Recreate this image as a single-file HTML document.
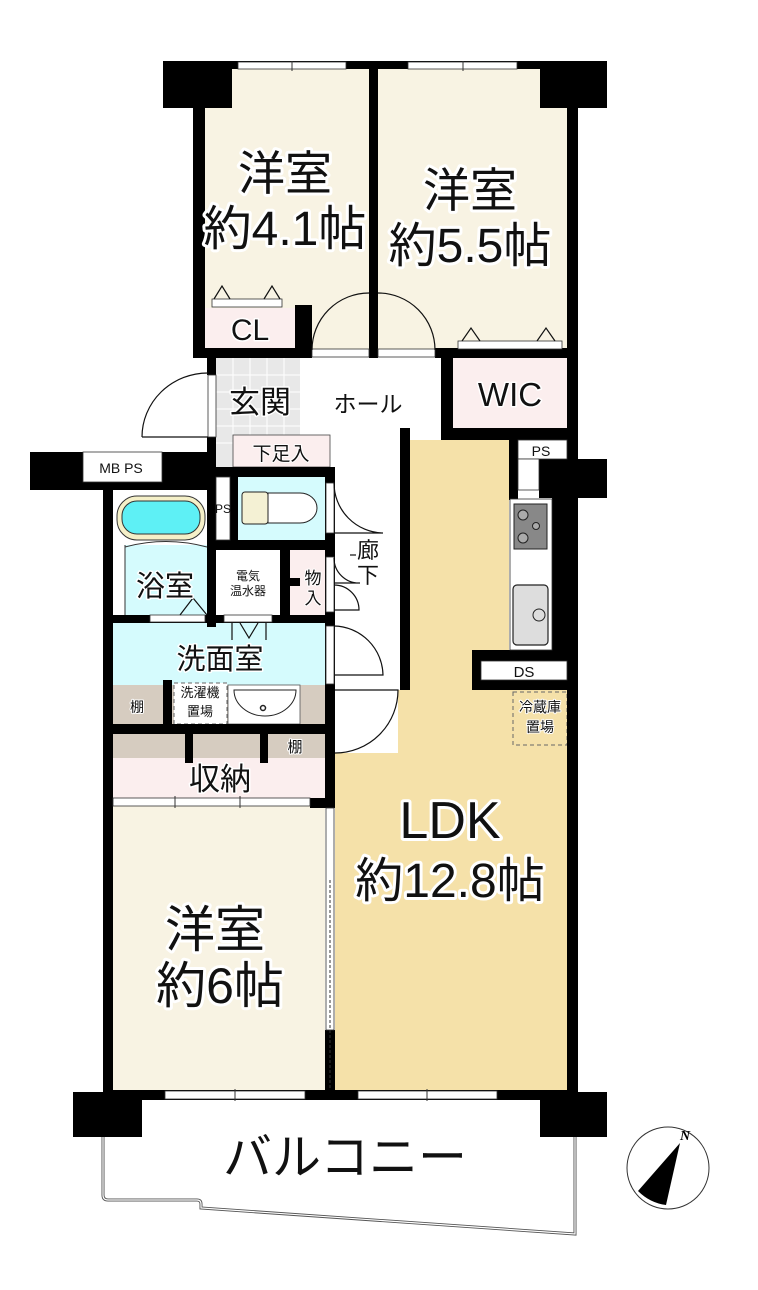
<!DOCTYPE html>
<html><head><meta charset="utf-8"><style>
html,body{margin:0;padding:0;background:#fff}
svg{display:block}
.t{font-family:"Liberation Sans","Noto Sans CJK JP",sans-serif;fill:#111;text-anchor:middle;paint-order:stroke;stroke:#fff;stroke-linejoin:round}
</style></head><body>
<svg width="758" height="1290" viewBox="0 0 758 1290" xmlns="http://www.w3.org/2000/svg">
<rect x="205" y="68" width="164" height="282" fill="#f8f3e3"/>
<rect x="378" y="68" width="190" height="282" fill="#f8f3e3"/>
<rect x="205" y="308" width="90" height="40" fill="#fbeeee"/>
<rect x="453" y="358" width="115" height="70" fill="#fbeeee"/>
<rect x="216" y="358" width="84" height="109" fill="#e8e8e8"/>
<g stroke="#fff" stroke-width="1">
<line x1="233" y1="358" x2="233" y2="467"/><line x1="250" y1="358" x2="250" y2="467"/><line x1="267" y1="358" x2="267" y2="467"/><line x1="284" y1="358" x2="284" y2="467"/>
<line x1="216" y1="375" x2="300" y2="375"/><line x1="216" y1="392" x2="300" y2="392"/><line x1="216" y1="409" x2="300" y2="409"/><line x1="216" y1="426" x2="300" y2="426"/><line x1="216" y1="443" x2="300" y2="443"/>
</g>
<rect x="233" y="435" width="97" height="32" fill="#fbeeee" stroke="#444" stroke-width="0.8"/>
<path d="M410 440 H509 V650 H472 V690 H568 V1092 H335 V753 H398 V690 H410 Z" fill="#f5e1a9"/>
<rect x="112" y="490" width="95" height="55" fill="#fff"/>
<rect x="125" y="545" width="82" height="72" fill="#d5fbfd"/>
<rect x="238" y="477" width="87" height="63" fill="#d5fbfd"/>
<rect x="290" y="550" width="35" height="65" fill="#fbeeee"/>
<rect x="113" y="622" width="212" height="63" fill="#d5fbfd"/>
<rect x="113" y="685" width="212" height="39" fill="#d6ccc0"/>
<rect x="174" y="683" width="53" height="41" fill="#fff" stroke="#666" stroke-width="1" stroke-dasharray="4,3"/>
<rect x="228" y="685" width="72" height="39" fill="#fff" stroke="#555" stroke-width="0.8"/>
<path d="M234 690 H296 A31 26 0 0 1 234 690 Z" fill="#fff" stroke="#222" stroke-width="1"/>
<circle cx="263" cy="708" r="2.5" fill="#fff" stroke="#222" stroke-width="1.5"/>
<rect x="113" y="734" width="212" height="24" fill="#d6ccc0"/>
<rect x="113" y="758" width="212" height="40" fill="#fbeeee"/>
<rect x="113" y="806" width="212" height="286" fill="#f8f3e3"/>
<rect x="513" y="692" width="54" height="53" fill="none" stroke="#666" stroke-width="1" stroke-dasharray="4,3"/>
<g fill="#000">
<rect x="163" y="61" width="69" height="47"/>
<rect x="540" y="61" width="67" height="47"/>
<rect x="193" y="61" width="400" height="8"/>
<rect x="193" y="100" width="12" height="258"/>
<rect x="369" y="61" width="9" height="297"/>
<rect x="567" y="100" width="11" height="995"/>
<rect x="295" y="305" width="17" height="53"/>
<rect x="193" y="348" width="119" height="10"/>
<rect x="435" y="348" width="143" height="10"/>
<rect x="441" y="348" width="12" height="92"/>
<rect x="441" y="428" width="137" height="12"/>
<rect x="400" y="428" width="10" height="262"/>
<rect x="509" y="440" width="9" height="60"/>
<rect x="539" y="459" width="68" height="39"/>
<rect x="552" y="490" width="20" height="165"/>
<rect x="472" y="650" width="106" height="40"/>
<rect x="207" y="358" width="9" height="17"/>
<rect x="207" y="437" width="9" height="53"/>
<rect x="30" y="452" width="53" height="38"/>
<rect x="162" y="452" width="46" height="38"/>
<rect x="30" y="482" width="178" height="8"/>
<rect x="103" y="482" width="10" height="618"/>
<rect x="207" y="467" width="128" height="10"/>
<rect x="207" y="467" width="9" height="160"/>
<rect x="230" y="477" width="8" height="70"/>
<rect x="207" y="540" width="128" height="10"/>
<rect x="280" y="550" width="10" height="70"/>
<rect x="280" y="578" width="20" height="8"/>
<rect x="325" y="467" width="10" height="340"/>
<rect x="103" y="615" width="232" height="8"/>
<rect x="163" y="680" width="9" height="44"/>
<rect x="103" y="724" width="232" height="10"/>
<rect x="185" y="734" width="8" height="29"/>
<rect x="260" y="734" width="8" height="29"/>
<rect x="310" y="798" width="25" height="10"/>
<rect x="325" y="1030" width="10" height="65"/>
<rect x="103" y="1090" width="475" height="10"/>
<rect x="73" y="1092" width="69" height="45"/>
<rect x="540" y="1092" width="67" height="45"/>
</g>
<g fill="#fff" stroke="#333" stroke-width="0.8">
<rect x="238" y="62" width="108" height="7"/><rect x="408" y="62" width="109" height="7"/>
<rect x="312" y="349" width="57" height="8"/><rect x="378" y="349" width="57" height="8"/>
<rect x="208" y="375" width="8" height="62"/>
<rect x="83" y="452" width="79" height="30"/>
<rect x="518" y="440" width="49" height="19"/><rect x="518" y="459" width="21" height="31"/>
<rect x="481" y="661" width="86" height="19"/>
<rect x="216" y="477" width="14" height="63"/>
<rect x="326" y="483" width="8" height="50"/><rect x="326" y="557" width="8" height="55"/>
<rect x="326" y="626" width="8" height="58"/>
<rect x="150" y="615" width="55" height="7"/><rect x="224" y="615" width="48" height="7"/>
<rect x="113" y="798" width="197" height="8"/>
<rect x="165" y="1091" width="140" height="8"/><rect x="358" y="1091" width="139" height="8"/>
<rect x="326" y="808" width="8" height="222"/>
<rect x="212" y="299" width="70" height="8"/>
<rect x="458" y="341" width="104" height="8"/>
</g>
<g stroke="#333" stroke-width="1">
<line x1="292" y1="61" x2="292" y2="71"/><line x1="463" y1="61" x2="463" y2="71"/>
<line x1="175" y1="796" x2="175" y2="808"/><line x1="240" y1="796" x2="240" y2="808"/>
<line x1="235" y1="1089" x2="235" y2="1101"/><line x1="427" y1="1089" x2="427" y2="1101"/>
<line x1="330" y1="880" x2="330" y2="1090" stroke-dasharray="3,2"/>
</g>
<g fill="none" stroke="#111" stroke-width="1.2">
<path d="M312 350 A57 57 0 0 1 369 293"/>
<path d="M378 293 A57 57 0 0 1 435 350"/>
<path d="M142 437 H208 M142 437 A66 64 0 0 1 208 373"/>
<path d="M334 533 H383 A50 50 0 0 1 334 483"/>
<path d="M334 583 H360 A25 25 0 0 1 334 558 M334 585 A25 25 0 0 1 359 610 H334"/>
<path d="M334 675 H383 A50 50 0 0 0 334 626"/>
<path d="M335 690 H398 A63 63 0 0 1 335 753"/>
<path d="M214 299 L222 286 L230 299 M264 299 L272 286 L280 299"/>
<path d="M462 341 L471 328 L480 341 M537 341 L546 328 L555 341"/>
<path d="M180 615 L193 598 L207 615"/>
<path d="M232 623 V640 M266 623 V640 M240 623 L249 638 L258 623"/>
<path d="M350 555 H356"/>
</g>
<rect x="117" y="496" width="88" height="44" rx="20" fill="#f5f0c8" stroke="#333" stroke-width="1"/>
<rect x="122" y="501" width="78" height="33" rx="15" fill="#5ef0f5" stroke="#333" stroke-width="1"/>
<path d="M125 547 Q166 536 207 547" fill="none" stroke="#333" stroke-width="1"/>
<line x1="125" y1="545" x2="125" y2="615" stroke="#333"/>
<path d="M268 493 H300 A17 15 0 0 1 300 523 H268 Z" fill="#fff" stroke="#222" stroke-width="1"/>
<rect x="242" y="492" width="26" height="32" rx="3" fill="#f4f1d4" stroke="#222" stroke-width="1"/>
<rect x="510" y="499" width="42" height="151" fill="#fff" stroke="#333" stroke-width="0.8"/>
<rect x="514" y="504" width="33" height="45" fill="#888" stroke="#222"/>
<circle cx="523" cy="515" r="5" fill="#aaa" stroke="#222"/><circle cx="523" cy="538" r="5" fill="#aaa" stroke="#222"/><circle cx="536" cy="526" r="3.5" fill="#aaa" stroke="#222"/>
<rect x="513" y="585" width="35" height="60" rx="4" fill="#ddd" stroke="#222" stroke-width="1.2"/>
<circle cx="539" cy="615" r="6" fill="none" stroke="#222"/>
<path d="M103 1137 V1195 Q103 1200 108 1200 H197 Q201 1200 201 1204 V1208 L575 1234 V1137" fill="none" stroke="#555" stroke-width="3"/>
<path d="M103 1137 V1195 Q103 1200 108 1200 H197 Q201 1200 201 1204 V1208 L575 1234 V1137" fill="none" stroke="#fff" stroke-width="1.2"/>
<circle cx="668" cy="1168" r="41" fill="#fff" stroke="#333" stroke-width="1"/>
<path d="M680 1143 L666 1205 Q650 1203 638 1191 Z" fill="#000"/>
<text x="685" y="1140" font-family="Liberation Serif,serif" font-style="italic" font-weight="bold" font-size="14" fill="#000" text-anchor="middle">N</text>
<g class="t">
<text x="285" y="190" font-size="47" stroke-width="6">洋室</text>
<text x="285" y="245" font-size="48" stroke-width="6">約4.1帖</text>
<text x="470" y="207" font-size="47" stroke-width="6">洋室</text>
<text x="470" y="262" font-size="48" stroke-width="6">約5.5帖</text>
<text x="250" y="340" font-size="30" stroke-width="3">CL</text>
<text x="510" y="406" font-size="33" stroke-width="3">WIC</text>
<text x="260" y="413" font-size="31" stroke-width="3">玄関</text>
<text x="368" y="412" font-size="23" stroke-width="3">ホール</text>
<text x="281" y="460" font-size="19" stroke-width="2">下足入</text>
<text x="121" y="473" font-size="14" stroke-width="0">MB  PS</text>
<text x="541" y="456" font-size="14" stroke-width="0">PS</text>
<text x="223" y="513" font-size="12" stroke-width="0">PS</text>
<text x="165" y="596" font-size="29" stroke-width="3">浴室</text>
<text x="248" y="580" font-size="12" stroke-width="0">電気</text>
<text x="248" y="595" font-size="12" stroke-width="0">温水器</text>
<text x="313" y="584" font-size="17" stroke-width="2">物</text>
<text x="313" y="604" font-size="17" stroke-width="2">入</text>
<text x="368" y="558" font-size="22" stroke-width="3">廊</text>
<text x="368" y="583" font-size="22" stroke-width="3">下</text>
<text x="524" y="677" font-size="15" stroke-width="0">DS</text>
<text x="540" y="712" font-size="14" stroke-width="2">冷蔵庫</text>
<text x="540" y="732" font-size="14" stroke-width="2">置場</text>
<text x="220" y="669" font-size="29" stroke-width="3">洗面室</text>
<text x="137" y="712" font-size="14" stroke-width="2">棚</text>
<text x="200" y="697" font-size="13" stroke-width="2">洗濯機</text>
<text x="200" y="716" font-size="13" stroke-width="2">置場</text>
<text x="295" y="752" font-size="15" stroke-width="2">棚</text>
<text x="220" y="790" font-size="31" stroke-width="3">収納</text>
<text x="450" y="838" font-size="52" stroke-width="6">LDK</text>
<text x="450" y="897" font-size="48" stroke-width="6">約12.8帖</text>
<text x="215" y="947" font-size="50" stroke-width="6">洋室</text>
<text x="220" y="1003" font-size="50" stroke-width="6">約6帖</text>
<text x="345" y="1174" font-size="49" stroke-width="5">バルコニー</text>
</g>
</svg>
</body></html>
